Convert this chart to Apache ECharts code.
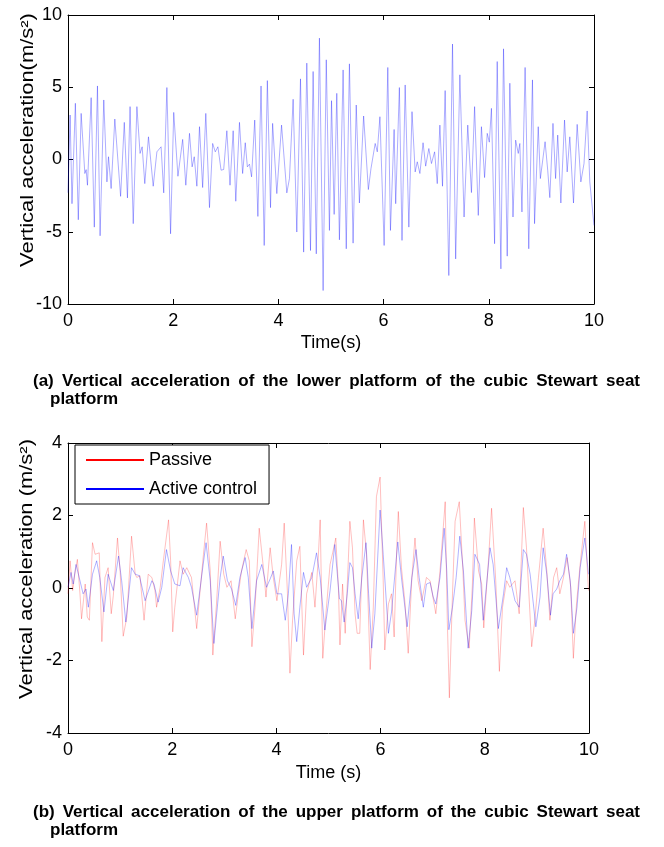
<!DOCTYPE html>
<html><head><meta charset="utf-8">
<script src="https://cdn.jsdelivr.net/npm/echarts@6/dist/echarts.min.js"></script>
<style>html,body{margin:0;padding:0;background:#fff}#c{width:664px;height:847px}</style>
</head><body><div id="c"></div>
<script>
// ---- data (time s, acceleration m/s^2) ----
const xTickValues = [0, 2, 4, 6, 8, 10];
const topYTicks = [-10, -5, 0, 5, 10];
const botYTicks = [-4, -2, 0, 2, 4];

const lowerPlatform = [[0,-2.3],[0.04,3.08],[0.076,-3.06],[0.14,3.89],[0.196,-4.17],[0.25,3.19],[0.32,-0.97],[0.345,-0.7],[0.37,-1.78],[0.44,4.28],[0.50,-4.68],[0.56,5.09],[0.61,-5.28],[0.68,4.12],[0.74,-1.55],[0.77,0.19],[0.82,-2.01],[0.89,2.80],[1.00,-2.55],[1.07,2.57],[1.13,-2.66],[1.18,3.66],[1.24,-4.44],[1.31,3.66],[1.37,0.42],[1.41,0.88],[1.46,-1.67],[1.53,1.57],[1.62,-1.85],[1.69,0.53],[1.77,0.88],[1.82,-2.31],[1.88,4.98],[1.95,-5.14],[2.01,3.26],[2.09,-1.16],[2.18,1.39],[2.24,-1.78],[2.31,1.81],[2.36,-0.51],[2.40,0.19],[2.45,-1.85],[2.50,2.27],[2.56,-1.94],[2.62,3.19],[2.69,-3.33],[2.75,1.11],[2.80,0.53],[2.85,0.88],[2.91,-0.74],[2.96,-0.69],[3.02,1.99],[3.08,-1.78],[3.14,1.99],[3.19,-2.89],[3.26,2.57],[3.32,-0.97],[3.37,1.16],[3.41,-0.51],[3.45,-0.32],[3.49,-1.20],[3.55,2.73],[3.61,-3.94],[3.67,5.09],[3.73,-5.95],[3.79,5.46],[3.85,-3.33],[3.89,2.50],[3.97,-2.36],[4.06,2.38],[4.16,-2.31],[4.21,-1.32],[4.28,4.17],[4.35,-5.02],[4.42,5.58],[4.48,-6.41],[4.54,6.67],[4.61,-6.30],[4.66,6.09],[4.72,-6.53],[4.78,8.40],[4.85,-9.07],[4.91,6.90],[4.97,-4.91],[5.01,4.07],[5.06,-3.80],[5.11,4.58],[5.16,-5.56],[5.23,6.20],[5.29,-6.18],[5.35,6.62],[5.42,-5.79],[5.48,3.77],[5.54,-3.01],[5.62,3.01],[5.71,-2.08],[5.76,-0.63],[5.84,1.11],[5.88,0.53],[5.93,2.96],[6.01,-5.95],[6.08,6.37],[6.13,-4.91],[6.20,2.08],[6.23,-3.06],[6.30,4.98],[6.35,-5.60],[6.41,5.16],[6.48,-4.68],[6.54,3.31],[6.60,-0.86],[6.64,-0.16],[6.69,-0.97],[6.75,1.16],[6.80,-0.46],[6.86,0.76],[6.91,-0.28],[6.97,0.53],[7.02,-1.67],[7.07,2.38],[7.12,-1.85],[7.17,4.77],[7.24,-8.03],[7.31,7.99],[7.37,-6.88],[7.45,5.86],[7.53,-3.98],[7.60,2.38],[7.67,-2.29],[7.73,3.66],[7.80,-3.87],[7.86,2.27],[7.92,-1.25],[7.97,1.81],[8.01,1.2],[8.05,3.54],[8.11,-5.83],[8.16,6.78],[8.23,-7.57],[8.28,7.66],[8.35,-6.69],[8.40,5.28],[8.46,-3.98],[8.51,1.34],[8.56,0.42],[8.59,1.11],[8.63,-3.63],[8.69,6.37],[8.76,-6.18],[8.83,5.51],[8.87,-4.44],[8.94,2.27],[8.98,-1.32],[9.07,1.23],[9.12,-0.74],[9.16,-2.64],[9.22,2.50],[9.27,-1.32],[9.31,1.69],[9.37,-3.01],[9.44,2.73],[9.49,-0.86],[9.54,1.57],[9.61,-3.01],[9.68,2.43],[9.75,-1.55],[9.81,-0.28],[9.87,3.36],[9.92,-1.55],[10.0,-4.56]];

const activeControl = [[0,0.02],[0.058,0.43],[0.10,0.11],[0.154,0.65],[0.23,0.20],[0.29,-0.16],[0.345,-0.03],[0.39,-0.53],[0.47,0.38],[0.55,0.75],[0.61,0.29],[0.69,-0.66],[0.77,0.38],[0.87,-0.07],[0.97,0.88],[1.03,0.20],[1.11,-0.94],[1.22,0.56],[1.29,0.38],[1.37,0.34],[1.48,-0.35],[1.61,0.20],[1.65,0.11],[1.73,-0.39],[1.80,0.02],[1.89,1.06],[1.97,0.47],[2.05,0.11],[2.15,0.06],[2.21,0.56],[2.31,0.29],[2.37,0.02],[2.47,-0.75],[2.57,0.38],[2.65,1.25],[2.73,0.20],[2.80,-1.53],[2.92,0.29],[2.98,0.88],[3.06,0.20],[3.14,-0.03],[3.22,-0.48],[3.30,0.29],[3.40,0.84],[3.46,0.29],[3.53,-1.12],[3.62,0.20],[3.72,0.65],[3.81,0.02],[3.88,0.25],[3.94,0.47],[4.01,-0.16],[4.10,-0.16],[4.17,-0.89],[4.23,-0.16],[4.29,1.20],[4.34,-0.71],[4.39,-1.48],[4.45,-0.53],[4.52,0.43],[4.58,0.02],[4.68,0.29],[4.77,0.97],[4.84,0.29],[4.93,-1.16],[5.03,-0.07],[5.12,1.20],[5.21,-0.30],[5.25,-0.35],[5.30,-0.94],[5.36,-0.16],[5.41,0.70],[5.46,0.56],[5.51,-0.16],[5.57,-0.85],[5.64,0.29],[5.72,1.25],[5.77,-0.16],[5.83,-1.66],[5.89,-0.71],[5.99,2.15],[6.05,0.93],[6.15,-1.25],[6.21,-0.66],[6.33,1.27],[6.40,0.29],[6.51,-1.07],[6.60,0.29],[6.68,1.06],[6.74,0.29],[6.82,-0.53],[6.88,0.11],[6.95,0.15],[7.01,-0.25],[7.06,-0.44],[7.14,0.29],[7.22,1.65],[7.27,0.47],[7.31,-1.15],[7.38,-0.53],[7.45,0.29],[7.52,1.43],[7.59,0.47],[7.68,-1.66],[7.75,-0.62],[7.81,0.93],[7.90,0.65],[7.97,-0.89],[8.10,1.11],[8.16,0.65],[8.26,-1.12],[8.36,-0.16],[8.42,0.56],[8.48,0.29],[8.58,-0.35],[8.66,-0.53],[8.74,1.06],[8.80,0.93],[8.87,0.38],[8.98,-1.07],[9.06,-0.25],[9.12,1.11],[9.19,0.38],[9.26,-0.75],[9.31,-0.16],[9.38,-0.03],[9.44,0.20],[9.51,0.38],[9.57,0.93],[9.64,0.20],[9.70,-1.25],[9.77,-0.53],[9.83,0.56],[9.92,1.38],[9.99,0.38]];

const passive = [[0,-0.16],[0.04,0.75],[0.09,-0.07],[0.13,0.38],[0.18,0.79],[0.23,-0.16],[0.26,-0.85],[0.33,0.11],[0.37,-0.80],[0.41,-0.89],[0.47,1.25],[0.52,0.93],[0.60,0.97],[0.65,-1.48],[0.71,0.29],[0.77,0.56],[0.83,-0.71],[0.87,-0.21],[0.95,1.38],[1.00,0.47],[1.06,-1.33],[1.13,-0.80],[1.22,1.43],[1.29,0.38],[1.32,0.29],[1.38,0.34],[1.46,-0.89],[1.54,0.38],[1.61,0.29],[1.67,-0.07],[1.70,-0.53],[1.77,0.02],[1.83,0.75],[1.93,1.88],[1.97,0.75],[2.01,-1.21],[2.05,-0.53],[2.15,0.75],[2.21,0.38],[2.28,0.56],[2.37,0.29],[2.47,-1.12],[2.53,-0.16],[2.60,0.93],[2.66,1.79],[2.73,0.47],[2.78,-1.85],[2.85,-0.44],[2.92,1.29],[2.99,0.38],[3.05,0.02],[3.13,0.20],[3.21,-0.85],[3.27,-0.16],[3.33,0.47],[3.42,1.06],[3.48,0.75],[3.53,-1.62],[3.59,-0.53],[3.67,1.65],[3.75,0.56],[3.80,-0.25],[3.88,1.11],[3.94,0.29],[4.01,-0.35],[4.10,0.65],[4.15,1.79],[4.21,-0.07],[4.26,-2.35],[4.31,-0.89],[4.39,0.75],[4.45,1.15],[4.52,-1.85],[4.58,-0.16],[4.68,0.43],[4.74,-0.53],[4.80,0.75],[4.84,1.88],[4.89,-1.94],[4.95,-0.71],[5.03,0.65],[5.08,0.97],[5.14,1.38],[5.19,0.02],[5.22,-1.57],[5.27,0.11],[5.32,-1.25],[5.38,0.75],[5.41,1.84],[5.46,1.11],[5.51,-0.71],[5.55,-1.25],[5.60,-1.25],[5.67,1.88],[5.73,0.93],[5.80,-2.25],[5.86,-0.53],[5.92,2.52],[5.99,3.06],[6.05,0.20],[6.08,-1.71],[6.15,-0.44],[6.21,-0.16],[6.26,-1.35],[6.31,1.11],[6.34,2.11],[6.40,0.56],[6.47,-0.44],[6.53,-1.80],[6.60,0.29],[6.66,1.38],[6.72,0.20],[6.79,-0.35],[6.88,0.29],[6.95,0.20],[7.06,-0.71],[7.14,0.47],[7.24,2.38],[7.28,-0.89],[7.32,-3.03],[7.38,-0.16],[7.43,1.84],[7.51,2.38],[7.58,0.47],[7.62,-0.89],[7.70,-1.66],[7.76,0.02],[7.80,1.93],[7.88,0.47],[7.94,0.11],[7.98,-1.1],[8.07,0.75],[8.13,2.20],[8.21,0.20],[8.28,-2.30],[8.34,-0.53],[8.42,0.20],[8.48,0.02],[8.58,0.20],[8.66,-0.71],[8.74,2.22],[8.80,1.11],[8.90,-1.62],[8.96,-0.89],[9.03,0.29],[9.12,1.65],[9.19,0.47],[9.25,-0.89],[9.32,0.29],[9.38,0.56],[9.44,-0.16],[9.51,0.29],[9.58,0.84],[9.65,0.02],[9.70,-1.94],[9.76,-0.44],[9.83,0.65],[9.92,1.84],[9.99,-0.07]];

const captionA = ['(a) Vertical acceleration of the lower platform of the cubic Stewart seat', 'platform'];
const captionB = ['(b) Vertical acceleration of the upper platform of the cubic Stewart seat', 'platform'];

// ---- chart ----
const FONT = '"Liberation Sans", Arial, sans-serif';
const chart = echarts.init(document.getElementById('c'), null, {renderer: 'canvas'});

function xAx(gi, pos, show, nm, gap) {
  return {
    type: 'value', gridIndex: gi, position: pos, min: xTickValues[0], max: xTickValues[xTickValues.length-1],
    interval: xTickValues[1]-xTickValues[0],
    axisLine: {show: true, onZero: false, lineStyle: {color: '#000', width: 1}},
    axisTick: {show: true, inside: true, length: 5, lineStyle: {color: '#000'}},
    axisLabel: {show: show, color: '#000', fontSize: 18, fontFamily: FONT, margin: 8},
    splitLine: {show: false},
    name: nm || '', nameLocation: 'middle', nameGap: gap || 0,
    nameTextStyle: {color: '#000', fontSize: 18, fontFamily: FONT}
  };
}
function yAx(gi, pos, show, ticks) {
  return {
    type: 'value', gridIndex: gi, position: pos, min: ticks[0], max: ticks[ticks.length-1],
    interval: ticks[1]-ticks[0],
    axisLine: {show: true, onZero: false, lineStyle: {color: '#000', width: 1}},
    axisTick: {show: true, inside: true, length: 5, lineStyle: {color: '#000'}},
    axisLabel: {show: show, color: '#000', fontSize: 18, fontFamily: FONT, margin: 6},
    splitLine: {show: false}
  };
}

function justifiedLine(text, x0, x1, y, font) {
  const words = text.split(' ');
  const ctx = document.createElement('canvas').getContext('2d');
  ctx.font = font;
  const ws = words.map(w => ctx.measureText(w).width);
  const tot = ws.reduce((a, b) => a + b, 0);
  const gap = words.length > 1 ? (x1 - x0 - tot) / (words.length - 1) : 0;
  let x = x0;
  return words.map((w, i) => {
    const el = {type: 'text', x: x, y: y, style: {text: w, font: font, fill: '#000', verticalAlign: 'middle'}};
    x += ws[i] + gap;
    return el;
  });
}
const CAP_FONT = 'bold 17px "Liberation Sans Narrow", "Liberation Sans", Arial, sans-serif';
const graphics = [].concat(
  justifiedLine(captionA[0], 33, 640, 381, CAP_FONT),
  [{type: 'text', x: 50, y: 399, style: {text: captionA[1], font: CAP_FONT, fill: '#000', verticalAlign: 'middle'}}],
  justifiedLine(captionB[0], 33, 640, 812, CAP_FONT),
  [{type: 'text', x: 50, y: 830, style: {text: captionB[1], font: CAP_FONT, fill: '#000', verticalAlign: 'middle'}}],
  [
    {type: 'text', x: 28, y: 140, rotation: Math.PI / 2, scaleX: 1.22,
     style: {text: 'Vertical acceleration(m/s²)', font: '18px ' + FONT, fill: '#000', align: 'center', verticalAlign: 'middle'}},
    {type: 'text', x: 27, y: 569, rotation: Math.PI / 2, scaleX: 1.22,
     style: {text: 'Vertical acceleration (m/s²)', font: '18px ' + FONT, fill: '#000', align: 'center', verticalAlign: 'middle'}}
  ]
);

chart.setOption({
  backgroundColor: '#fff',
  animation: false,
  grid: [
    {left: 68, top: 15, width: 526, height: 289},
    {left: 68, top: 443, width: 521, height: 290}
  ],
  xAxis: [
    xAx(0, 'bottom', true, 'Time(s)', 30),
    xAx(1, 'bottom', true, 'Time (s)', 31),
    xAx(0, 'top', false),
    xAx(1, 'top', false)
  ],
  yAxis: [
    yAx(0, 'left', true, topYTicks),
    yAx(1, 'left', true, botYTicks),
    yAx(0, 'right', false, topYTicks),
    yAx(1, 'right', false, botYTicks)
  ],
  legend: {
    data: [
      {name: 'Passive', icon: 'rect', itemStyle: {color: '#ff0000', opacity: 1}},
      {name: 'Active control', icon: 'rect', itemStyle: {color: '#0000ff', opacity: 1}}
    ],
    orient: 'vertical', left: 75, top: 445, itemWidth: 58, itemHeight: 2, itemGap: 11,
    padding: [6, 12, 6, 11], borderColor: '#000', borderWidth: 1, backgroundColor: '#fff',
    selectedMode: false,
    textStyle: {fontSize: 18, color: '#000', fontFamily: FONT}
  },
  series: [
    {name: 'Lower platform', type: 'line', xAxisIndex: 0, yAxisIndex: 0, data: lowerPlatform,
     showSymbol: false, symbol: 'none', lineStyle: {color: '#0000ff', width: 1, opacity: 0.32}, itemStyle: {color: '#0000ff'}},
    {name: 'Passive', type: 'line', xAxisIndex: 1, yAxisIndex: 1, data: passive,
     showSymbol: false, symbol: 'none', lineStyle: {color: '#ff0000', width: 1, opacity: 0.25}, itemStyle: {color: '#ff0000'}},
    {name: 'Active control', type: 'line', xAxisIndex: 1, yAxisIndex: 1, data: activeControl,
     showSymbol: false, symbol: 'none', lineStyle: {color: '#0000ff', width: 1, opacity: 0.3}, itemStyle: {color: '#0000ff'}}
  ],
  graphic: graphics
});
</script>
</body></html>
